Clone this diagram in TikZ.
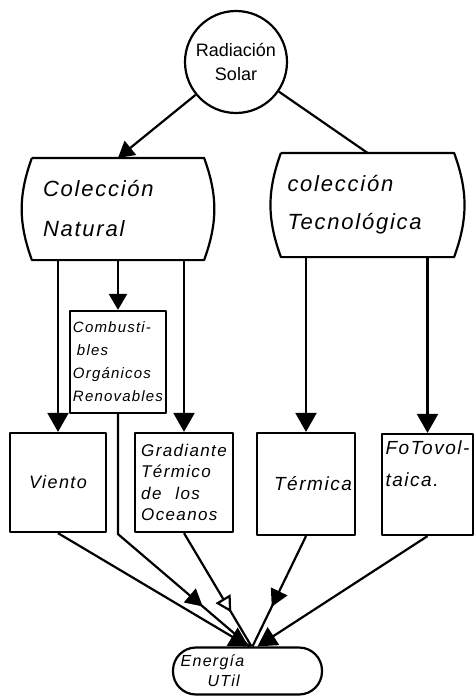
\documentclass[tikz,border=0pt]{standalone}
\usepackage{fontspec}
\setmainfont{Liberation Sans}
\newfontfamily\handfont[LetterSpace=8]{Liberation Sans}
\usetikzlibrary{arrows.meta,decorations.markings}
\newcommand\myfs[2]{\fontsize{#1}{#2}\selectfont}
\begin{document}
\begin{tikzpicture}[x=1pt,y=-1pt,
  line width=2.2pt, line join=round,
  hand/.style 2 args={font=\handfont\itshape\myfs{#1}{#2}},
  boxnode/.style={draw, rectangle, inner sep=3pt},
  barrel/.style={rectangle, inner sep=5pt, align=left},
  arr/.style={-{Triangle[length=19pt,width=21pt]}},
  arrsmall/.style={-{Triangle[length=16pt,width=18pt]}},
  midarr/.style={postaction={decorate},decoration={markings,mark=at position #1 with {\arrow{Triangle[length=17pt,width=18pt]}}}},
  openmid/.style={postaction={decorate},decoration={markings,mark=at position #1 with {\arrow{Triangle[open,fill=white,length=16pt,width=17pt]}}}}]
\useasboundingbox (0,0) rectangle (475,698);
\fill[white] (0,0) rectangle (475,698);

% top circle
\node[circle, draw, minimum size=102pt, inner sep=0pt, align=center, font=\myfs{18}{24}] (sol) at (236,62) {Radiación\\Solar};

% barrel boxes
\node[barrel, minimum width=170pt, minimum height=100pt, text width=150pt, hand={22}{40}] (nat) at (118,209) {Colección\\Natural};
\node[barrel, minimum width=171pt, minimum height=102pt, text width=160pt, hand={22}{38}] (tec) at (367.5,205) {colección\\Tecnológica};
\draw (nat.north west) -- (nat.north east) to[bend left=20] (nat.south east) -- (nat.south west) to[bend left=20] (nat.north west);
\draw (tec.north west) -- (tec.north east) to[bend left=20] (tec.south east) -- (tec.south west) to[bend left=20] (tec.north west);

% rectangular boxes
\node[boxnode, minimum width=96pt, minimum height=102pt, align=left, hand={15}{23}] (com) at (118,362) {Combusti-\\\hspace*{4pt}bles\\Orgánicos\\Renovables};
\node[boxnode, minimum width=96pt, minimum height=99pt, hand={18}{22}] (vie) at (58,482.5) {Viento};
\node[boxnode, minimum width=98pt, minimum height=99pt, align=left, hand={17}{21.5}] (gra) at (184,482.5) {Gradiante\\Térmico\\de\hspace{14pt}los\\Oceanos};
\node[boxnode, minimum width=98pt, minimum height=102pt, hand={19}{24}] (ter) at (306,484) {\hspace*{14pt}Térmica};
\node[boxnode, minimum width=91pt, minimum height=101pt, align=left, hand={19}{32}] (fot) at (427.5,484.5) {FoTovol-\\taica.\\\strut};

% bottom stadium
\node[draw, rectangle, rounded corners=23pt, minimum width=149pt, minimum height=47pt, inner sep=1pt, align=left, hand={16}{20}] (ene) at (247.5,671) {Energía\hspace*{70pt}\\\hspace*{27pt}UTil};

% connectors from the circle
\draw[arrsmall] (sol) -- (nat.north);
\draw (sol) -- (tec.north);

% vertical connectors
\draw[arr] (nat.south -| vie) -- (vie);
\draw[arrsmall] (nat.south -| com) -- (com);
\draw[arr] (nat.south -| gra) -- (gra);
\draw[arr] (tec.south -| ter) -- (ter);
\draw[arr] (tec.south -| fot) -- (fot);

% converging connectors
\draw[arr] (vie.south) -- ([xshift=1pt]ene.north);
\draw[midarr=0.79] (com.south) -- ++(0,120) -- ([xshift=2pt]ene.north);
\draw[openmid=0.70] (gra.south) -- ([xshift=4pt]ene.north);
\draw[midarr=0.64] (ter.south) -- ([xshift=5pt]ene.north);
\draw[arr] (fot.south) -- ([xshift=10pt]ene.north);
\end{tikzpicture}
\end{document}
